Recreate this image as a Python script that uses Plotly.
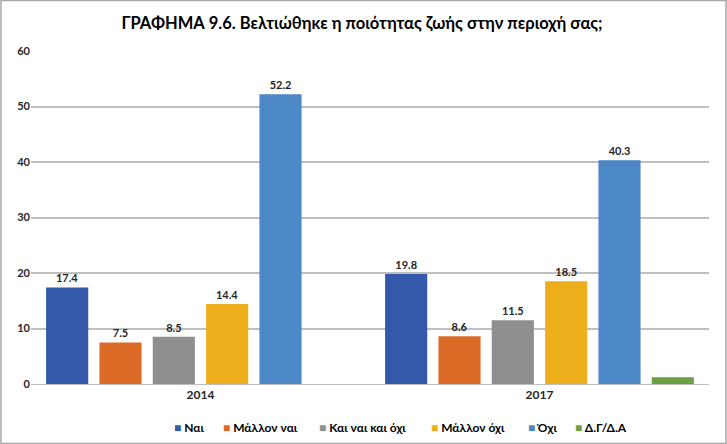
import plotly.graph_objects as go

categories = ["2014", "2017"]
series_names = ["Ναι", "Μάλλον ναι", "Και ναι και όχι", "Μάλλον όχι", "Όχι", "Δ.Γ/Δ.Α"]
nai = [17.4, 19.8]
mallon_nai = [7.5, 8.6]
kai_kai = [8.5, 11.5]
mallon_oxi = [14.4, 18.5]
oxi = [52.2, 40.3]
dg_da = [None, 1.2]
show_labels = [True, True, True, True, True, False]

colors = ["#3459AA", "#DD6B28", "#8F8F8F", "#EDAE1C", "#4C87C6", "#6AA243"]
values = [nai, mallon_nai, kai_kai, mallon_oxi, oxi, dg_da]

FONT = "Lato"
W, H = 727, 444
ML, MR, MT, MB = 31, 18, 51, 60
PW, PH = W - ML - MR, H - MT - MB

fig = go.Figure()
for name, vals, col, lab in zip(series_names, values, colors, show_labels):
    fig.add_trace(go.Bar(
        x=categories, y=vals, name=name,
        marker=dict(color=col, line=dict(width=0)),
        text=[(f"{v:.1f}" if (lab and v is not None) else "") for v in vals],
        textposition="outside",
        textfont=dict(family=FONT, size=11, color="#262626", weight="bold"),
        cliponaxis=False,
        showlegend=False,
    ))

# legend drawn as text items (colored square + label)
legend_px = [172, 221, 317, 429, 526, 573]
legend_y_px = 427
for name, col, px in zip(series_names, colors, legend_px):
    fig.add_annotation(
        xref="paper", yref="paper",
        x=(px - ML) / PW, y=(H - MB - legend_y_px) / PH,
        xanchor="left", yanchor="middle", showarrow=False,
        text=f"<span style='color:{col}'>■</span> {name}",
        font=dict(family=FONT, size=12, color="#000000", weight="bold"),
    )

fig.update_layout(
    width=W, height=H,
    margin=dict(l=ML, r=MR, t=MT, b=MB),
    paper_bgcolor="white", plot_bgcolor="white",
    barmode="group", bargap=0.056, bargroupgap=0.21,
    font=dict(family=FONT, color="#262626"),
    title=dict(text="<b>ΓΡΑΦΗΜΑ 9.6. Βελτιώθηκε η ποιότητας ζωής στην περιοχή σας;</b>",
               x=(362 - ML) / PW, xref="paper", xanchor="center", y=1 - 23 / H, yanchor="middle",
               font=dict(family=FONT, size=16.5, color="#000000")),
    xaxis=dict(showgrid=False, showline=True, linecolor="#BFBFBF", linewidth=1,
               tickfont=dict(family=FONT, size=12, color="#262626", weight="bold"),
               ticks=""),
    yaxis=dict(range=[0, 60], dtick=10, showgrid=True, gridcolor="#BFBFBF", gridwidth=1.5,
               zeroline=False, showline=False, ticks="",
               tickfont=dict(family=FONT, size=11, color="#262626", weight="bold")),
    showlegend=False,
)
fig.add_shape(type="rect", xref="paper", yref="paper",
              x0=-(ML - 1) / PW, x1=1 + (MR - 1) / PW, y0=-(MB - 0.5) / PH, y1=1 + (MT - 0.5) / PH,
              line=dict(color="#A6A6A6", width=1.5), fillcolor="rgba(0,0,0,0)", layer="below")
fig.write_html("out.html", config={"displayModeBar": False},
               post_script="document.body.style.margin='0';document.body.style.overflow='hidden';")
